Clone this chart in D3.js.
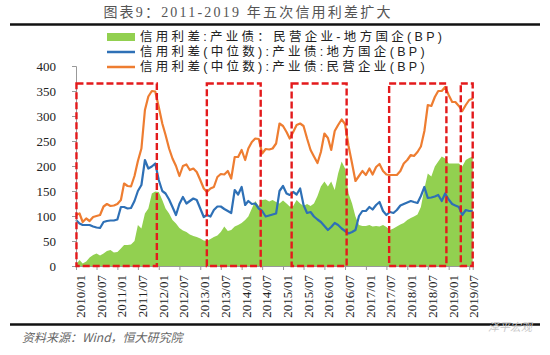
<!DOCTYPE html>
<html><head><meta charset="utf-8">
<script src="https://cdn.jsdelivr.net/npm/d3@7"></script>
<style>body{margin:0;background:#fff}svg{display:block}</style>
</head><body>
<svg id="chart" width="550" height="355"></svg>
<script>
// ---- data (monthly, 2010/01 .. 2019/08) ----
const firstMonth = "2010/01";
const lastMonth = "2019/08";
const gapPrivateMinusLocal = [3,12,5,9,17,22,25,21,25,30,32,27,28,35,42,42,43,50,82,75,105,115,145,149,148,132,115,105,92,85,76,71,68,63,60,58,55,51,50,54,58,61,68,79,70,72,79,82,86,92,99,115,130,120,132,133,129,132,128,125,131,125,119,120,132,125,120,124,120,125,140,159,169,159,169,152,185,209,195,145,125,99,82,80,80,82,79,80,79,82,78,72,75,79,83,86,92,96,99,103,118,155,185,179,199,209,219,215,205,205,205,205,199,212,216,219];
const medianLocalSOE = [92,85,82,82,82,79,77,76,88,90,91,91,93,118,118,115,116,130,150,162,212,195,199,205,172,150,145,133,118,102,124,138,125,130,135,132,115,98,102,99,112,119,119,114,110,106,152,143,158,122,130,124,125,115,110,99,101,103,105,150,160,145,142,148,143,155,122,106,108,99,93,88,80,72,78,86,82,75,70,65,68,72,100,110,110,118,113,122,128,110,102,108,106,112,121,124,127,130,128,126,140,158,136,137,139,142,130,145,133,124,121,118,102,112,110,110];
const medianPrivate = [102,105,88,95,90,98,100,102,119,124,120,121,124,132,165,160,159,180,210,235,312,339,350,349,318,285,262,235,215,200,180,200,203,192,195,188,172,155,148,155,158,178,184,183,190,175,218,218,232,212,235,248,255,254,225,234,233,235,245,285,280,268,255,268,282,285,280,255,232,219,206,228,265,256,232,270,282,293,284,240,205,170,180,190,182,195,183,198,204,190,183,182,182,182,190,205,212,222,220,228,239,270,322,320,338,350,350,358,342,328,328,320,310,322,332,335];
const yTickValues = [0,50,100,150,200,250,300,350,400];
const xTickLabels = ["2010/01","2010/07","2011/01","2011/07","2012/01","2012/07","2013/01","2013/07","2014/01","2014/07","2015/01","2015/07","2016/01","2016/07","2017/01","2017/07","2018/01","2018/07","2019/01","2019/07"];
const boxStarts = ["2010/01/05","2013/02/28","2015/03/18","2017/07/25","2019/04/18"];
const boxEnds   = ["2011/12/15","2014/06/18","2016/07/15","2018/12/12","2019/08/01"];
const boxTopValue = 365;
const legendLabels = ["信用利差:产业债：民营企业-地方国企(BP)","信用利差(中位数):产业债:地方国企(BP)","信用利差(中位数):产业债:民营企业(BP)"];
const titleText = "图表9：2011-2019 年五次信用利差扩大";
const sourceText = "资料来源：Wind，恒大研究院";

// ---- setup ----
const svg = d3.select("#chart");
const pm = d3.timeParse("%Y/%m"), pd = d3.timeParse("%Y/%m/%d");
const months = d3.timeMonth.range(pm(firstMonth), d3.timeMonth.offset(pm(lastMonth),1));
const x = d3.scaleTime().domain([pm(firstMonth), pm(lastMonth)]).range([76, 472.7]);
const y = d3.scaleLinear().domain([0,400]).range([266,66]);
const C = {green:"#92D050", blue:"#2E70B6", orange:"#EE7D31", red:"#E31A1C"};
const cjk = "'Noto Sans CJK SC','Noto Sans',sans-serif";
const mixed = "'Liberation Sans','Noto Sans CJK SC',sans-serif";
const serif = "'Liberation Serif','DejaVu Serif',serif";

// title + rules
svg.append("text").attr("x",248).attr("y",17).attr("text-anchor","middle")
  .attr("font-family","'Liberation Serif','Noto Sans CJK SC',serif").attr("font-size",14).attr("letter-spacing",2.2).attr("fill","#555").text(titleText);
svg.append("line").attr("x1",10).attr("x2",540).attr("y1",24.5).attr("y2",24.5).attr("stroke","#111").attr("stroke-width",2.5);
svg.append("line").attr("x1",10).attr("x2",540).attr("y1",324.5).attr("y2",324.5).attr("stroke","#111").attr("stroke-width",2.5);
svg.append("text").attr("x",22).attr("y",342).attr("font-family",cjk).attr("font-style","italic")
  .attr("font-size",12).attr("fill","#666").text(sourceText);
svg.append("text").attr("x",510).attr("y",331).attr("text-anchor","middle").attr("font-family",cjk)
  .attr("font-size",11).attr("fill","#c8c8c8").attr("font-style","italic").text("泽平宏观");

// area + lines
const idx = d3.range(months.length);
svg.append("path").datum(idx).attr("fill",C.green)
  .attr("d", d3.area().x(i=>x(months[i])).y0(y(0)).y1(i=>y(gapPrivateMinusLocal[i])));
const line = arr => d3.line().x(i=>x(months[i])).y(i=>y(arr[i]));
svg.append("path").datum(idx).attr("fill","none").attr("stroke",C.blue).attr("stroke-width",2.2)
  .attr("stroke-linejoin","round").attr("d", line(medianLocalSOE));
svg.append("path").datum(idx).attr("fill","none").attr("stroke",C.orange).attr("stroke-width",2.2)
  .attr("stroke-linejoin","round").attr("d", line(medianPrivate));

// axes
const yAxis = svg.append("g").attr("transform","translate(76,0)")
  .call(d3.axisLeft(y).tickValues(yTickValues).tickSize(4).tickPadding(16));
const xAxis = svg.append("g").attr("transform","translate(0,266)")
  .call(d3.axisBottom(x).tickValues(xTickLabels.map(pm)).tickSize(4).tickFormat(d3.timeFormat("%Y/%m")));
[yAxis,xAxis].forEach(a=>{a.selectAll("path,line").attr("stroke","#999");
  a.selectAll("text").attr("font-family",serif).attr("font-size",13).attr("fill","#222");});
xAxis.selectAll("text").attr("text-anchor","end").attr("dy",null)
  .attr("dominant-baseline","central").attr("y",0).attr("x",0)
  .attr("transform",d=>"translate(4,9) rotate(-90)");

// dashed boxes
svg.append("g").selectAll("rect").data(boxStarts).join("rect")
  .attr("x",(d)=>x(pd(d))).attr("y",y(boxTopValue))
  .attr("width",(d,i)=>x(pd(boxEnds[i]))-x(pd(d))).attr("height",y(0)-y(boxTopValue))
  .attr("fill","none").attr("stroke",C.red).attr("stroke-width",2.4).attr("stroke-dasharray","7,3");

// legend
const lg = svg.append("g");
legendLabels.forEach((t,i)=>{
  const yy = 37 + i*15;
  if(i===0) lg.append("rect").attr("x",107).attr("y",yy-4).attr("width",28).attr("height",8).attr("fill",C.green);
  else lg.append("line").attr("x1",107).attr("x2",135).attr("y1",yy).attr("y2",yy)
        .attr("stroke",i===1?C.blue:C.orange).attr("stroke-width",2.5);
  lg.append("text").attr("x",140).attr("y",yy).attr("dominant-baseline","central")
    .attr("font-family",mixed).attr("font-size",12.5).attr("letter-spacing",3.3).attr("fill","#222").text(t);
});
</script>
</body></html>
